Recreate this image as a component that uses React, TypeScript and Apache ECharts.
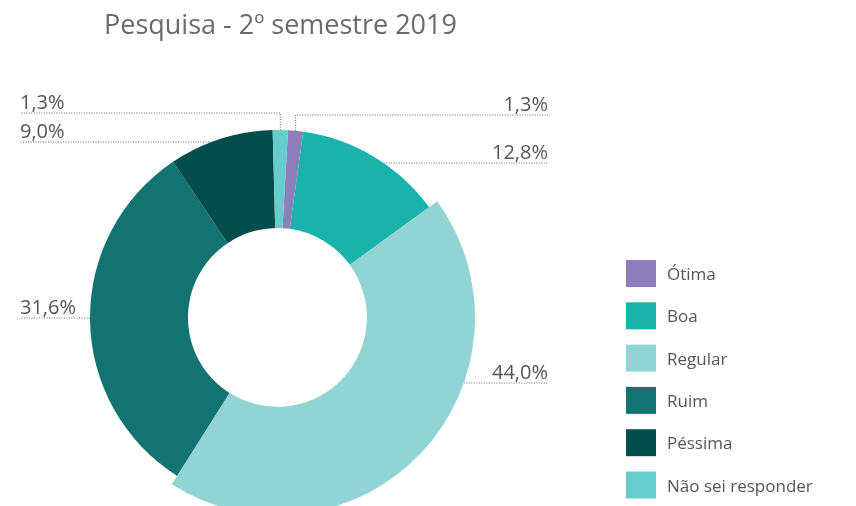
import React, { useEffect, useRef } from 'react';
import * as echarts from 'echarts';

const title = 'Pesquisa - 2º semestre 2019';
const categories = ['Ótima', 'Boa', 'Regular', 'Ruim', 'Péssima', 'Não sei responder'];
const values = [1.3, 12.8, 44.0, 31.6, 9.0, 1.3];
const colors = ['#8c7fba', '#19b3ab', '#91d4d3', '#137371', '#034e4d', '#66cccc'];
const highlighted = 'Regular';

// layout
const FONT = "'Open Sans', 'Noto Sans', sans-serif";
const CX = 277.5;
const CY = 317.5;
const R0 = 89.5;
const R = 187.5;
const R_HL = 197.5;
const START_OFFSET = 3.2; // degrees clockwise from 12 o'clock
const LABEL_LINE_Y = [115, 163, 383, 318, 142, 113];
const LABEL_RIGHT = [true, true, true, false, false, false];
const LEFT_EDGE = 20;
const RIGHT_EDGE = 548;

const fmt = (v: number) => v.toFixed(1).replace('.', ',') + '%';

export default function App() {
  const ref = useRef<HTMLDivElement>(null);
  useEffect(() => {
    if (!ref.current) return;
    const chart = echarts.init(ref.current, undefined, { renderer: 'svg' });
    const total = values.reduce((a, b) => a + b, 0);
    let acc = 0;
    const mids = values.map((v) => {
      const m = ((acc + v / 2) / total) * 360 + START_OFFSET;
      acc += v;
      return m;
    });
    const data = categories.map((name, i) => ({
      name,
      value: values[i],
      itemStyle: { color: colors[i] },
    }));
    const overlay = categories.map((name, i) => ({
      name,
      value: values[i],
      itemStyle: { color: name === highlighted ? colors[i] : 'rgba(0,0,0,0)' },
    }));
    chart.setOption({
      animation: false,
      title: {
        text: title,
        left: 104,
        top: 10,
        padding: 0,
        textStyle: { fontFamily: FONT, fontSize: 27, fontWeight: 'normal', color: '#6a6a6a' },
      },
      legend: {
        orient: 'vertical',
        left: 626,
        top: 260,
        height: 246,
        padding: 0,
        itemWidth: 30,
        itemHeight: 27,
        itemGap: 15.3,
        icon: 'rect',
        selectedMode: false,
        data: categories,
        textStyle: { fontFamily: FONT, fontSize: 17, color: '#555', padding: [0, 0, 0, 6] },
      },
      series: [
        {
          type: 'pie',
          center: [CX, CY],
          radius: [R0, R],
          startAngle: 90 - START_OFFSET,
          clockwise: true,
          avoidLabelOverlap: false,
          silent: true,
          itemStyle: { borderWidth: 0 },
          data,
          label: {
            show: true,
            position: 'outside',
            formatter: (p: any) => fmt(values[p.dataIndex]),
            fontFamily: FONT,
            fontSize: 20,
            color: '#555',
          },
          labelLine: {
            show: true,
            length: 10,
            length2: 10,
            lineStyle: { color: '#5f6470', type: [1, 1.5], width: 1 },
          },
          labelLayout: (params: any) => {
            const i = params.dataIndex;
            const ang = (mids[i] * Math.PI) / 180;
            const right = LABEL_RIGHT[i];
            const r = categories[i] === highlighted ? R_HL : R;
            const ly = LABEL_LINE_Y[i];
            const ex = right ? RIGHT_EDGE : LEFT_EDGE;
            const ax = CX + r * Math.sin(ang);
            const ay = CY - r * Math.cos(ang);
            const dy = ly - CY;
            let points: number[][];
            if (Math.abs(dy) < r) {
              const sx = CX + (right ? 1 : -1) * Math.sqrt(r * r - dy * dy);
              points = [[sx, ly], [sx, ly], [ex, ly]];
            } else {
              points = [[ax, ay], [ax, ly], [ex, ly]];
            }
            return {
              x: ex,
              y: ly - 2,
              align: right ? 'right' : 'left',
              verticalAlign: 'bottom',
              labelLinePoints: points,
            };
          },
        },
        {
          type: 'pie',
          center: [CX, CY],
          radius: [R0, R_HL],
          startAngle: 90 - START_OFFSET,
          clockwise: true,
          silent: true,
          z: 3,
          itemStyle: { borderWidth: 0 },
          label: { show: false },
          labelLine: { show: false },
          data: overlay,
        },
      ],
    });
    return () => chart.dispose();
  }, []);
  return (
    <div
      ref={ref}
      style={{ position: 'fixed', left: 0, top: 0, width: 856, height: 506 }}
    />
  );
}
